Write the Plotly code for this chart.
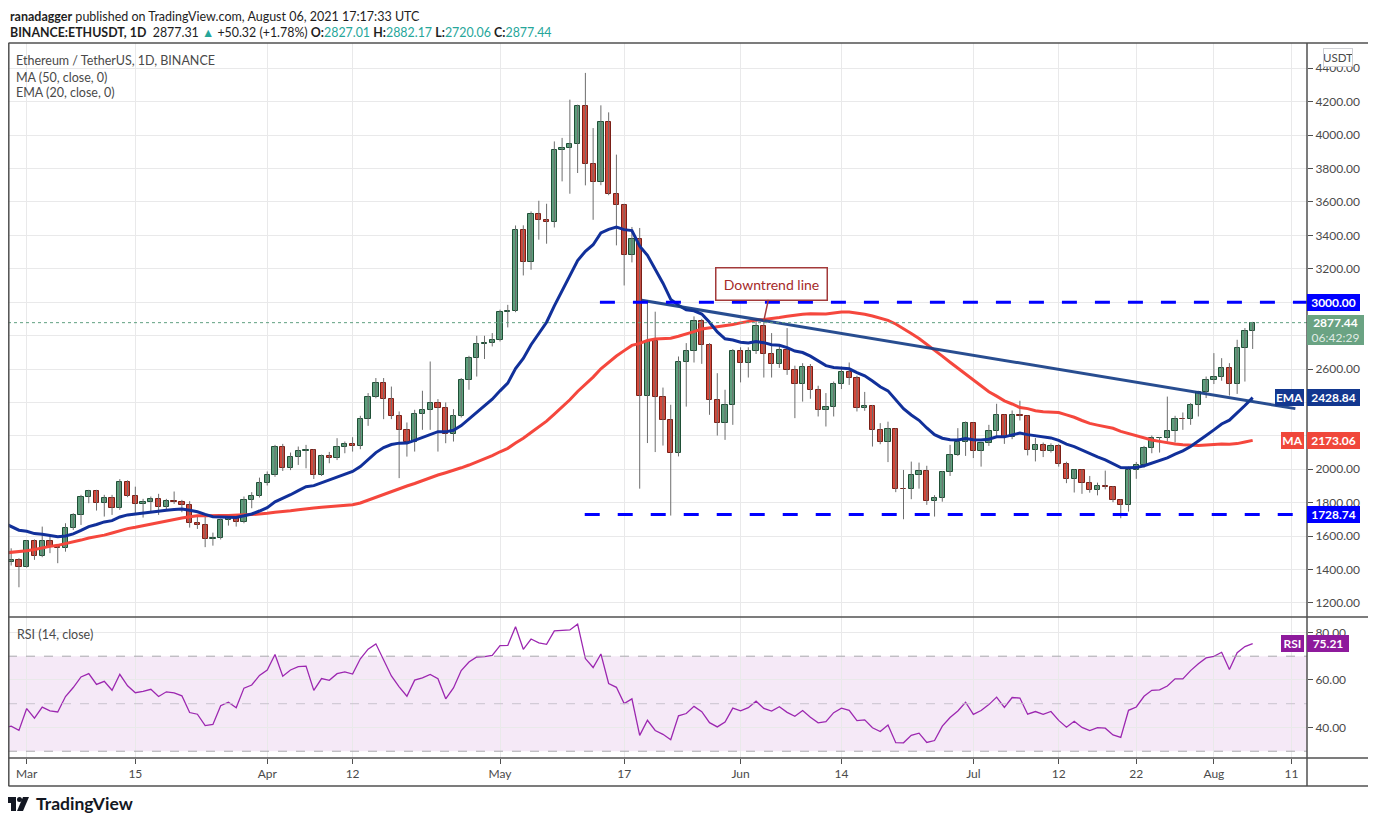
import pandas as pd
import plotly.graph_objects as go

# BINANCE:ETHUSDT daily candles, Feb 27 - Aug 6 2021
dates = pd.date_range("2021-02-27", "2021-08-06", freq="D")

opens = [
    1446, 1459,
    # Mar
    1418, 1569, 1483, 1569, 1537, 1527, 1647, 1727, 1833, 1869, 1797, 1827, 1767, 1923, 1843, 1791,
    1803, 1821, 1773, 1809, 1803, 1785, 1677, 1665, 1581, 1587, 1695, 1717, 1683, 1815, 1839,
    # Apr
    1917, 1965, 2132, 2006, 2072, 2108, 2114, 1965, 2078, 2066, 2132, 2150, 2138, 2300, 2432,
    2516, 2420, 2316, 2236, 2162, 2330, 2356, 2396, 2366, 2212, 2320, 2535, 2665, 2749, 2755,
    # May
    2775, 2944, 2950, 3429, 3241, 3528, 3492, 3480, 3913, 3923, 3947, 4176, 3827, 3719, 4080, 3647,
    3582, 3282, 3378, 2440, 2769, 2432, 2294, 2096, 2645, 2705, 2889, 2742, 2412, 2276, 2384,
    # Jun
    2707, 2635, 2707, 2857, 2689, 2629, 2715, 2595, 2510, 2611, 2474, 2354, 2372, 2510, 2582,
    2546, 2366, 2376, 2234, 2162, 2240, 1884, 1881, 1965, 1989, 1809, 1829, 1983, 2085, 2164,
    # Jul
    2276, 2108, 2155, 2228, 2324, 2196, 2324, 2318, 2115, 2145, 2110, 2139, 2031, 1941, 1995, 1917,
    1875, 1899, 1893, 1815, 1785, 1995, 2025, 2126, 2186, 2190, 2228, 2300, 2299, 2384, 2462,
    # Aug
    2534, 2554, 2605, 2510, 2725, 2827.01,
]
highs = [
    1527, 1468,
    1577, 1580, 1657, 1600, 1547, 1677, 1737, 1847, 1877, 1877, 1847, 1847, 1941, 1934, 1896,
    1823, 1837, 1853, 1823, 1867, 1817, 1809, 1721, 1727, 1621, 1705, 1727, 1727, 1837, 1863, 1950,
    1987, 2146, 2152, 2100, 2136, 2146, 2120, 2088, 2104, 2186, 2166, 2192, 2320, 2456, 2546,
    2546, 2495, 2346, 2280, 2356, 2470, 2645, 2420, 2400, 2360, 2546, 2679, 2799, 2799, 2815,
    2955, 2984, 3459, 3460, 3543, 3607, 3589, 3962, 3983, 4212, 4182, 4372, 4042, 4178, 4136, 3883,
    3589, 3450, 3444, 3011, 2943, 2489, 2386, 2675, 2755, 2915, 2900, 2755, 2575, 2476, 2719,
    2730, 2730, 2895, 2883, 2815, 2745, 2845, 2620, 2635, 2630, 2500, 2456, 2525, 2615, 2639,
    2560, 2463, 2385, 2276, 2285, 2245, 1996, 2046, 2040, 2021, 1845, 1990, 2146, 2246, 2286,
    2280, 2160, 2266, 2392, 2328, 2352, 2410, 2322, 2187, 2160, 2155, 2150, 2045, 2000, 2000, 1960,
    1920, 1992, 1900, 1820, 2016, 2044, 2140, 2202, 2192, 2435, 2320, 2340, 2396, 2470, 2555,
    2695, 2665, 2635, 2775, 2845, 2882.17,
]
lows = [
    1424, 1294,
    1412, 1458, 1474, 1498, 1438, 1507, 1637, 1667, 1797, 1753, 1717, 1727, 1757, 1833, 1727,
    1711, 1741, 1727, 1753, 1793, 1743, 1651, 1643, 1534, 1543, 1580, 1663, 1657, 1677, 1767, 1831,
    1903, 1955, 1990, 1995, 2026, 2006, 1942, 1960, 2036, 2055, 2096, 2106, 2120, 2260, 2425,
    2300, 2300, 1947, 2076, 2106, 2236, 2236, 2106, 2156, 2166, 2310, 2476, 2555, 2660, 2735,
    2765, 2849, 2940, 3160, 3194, 3374, 3350, 3447, 3723, 3649, 3773, 3699, 3493, 3700, 3640, 3340,
    3100, 3238, 1884, 2157, 2103, 2142, 1723, 2077, 2375, 2639, 2631, 2326, 2202, 2176, 2266,
    2520, 2549, 2690, 2549, 2549, 2607, 2565, 2306, 2405, 2422, 2316, 2256, 2316, 2480, 2505,
    2346, 2350, 2136, 2150, 2043, 1863, 1701, 1821, 1884, 1787, 1717, 1806, 1960, 2080, 2080,
    2067, 2016, 2140, 2200, 2152, 2180, 2292, 2083, 2047, 2073, 2100, 2016, 1917, 1861, 1853, 1860,
    1844, 1880, 1803, 1707, 1747, 1943, 2010, 2096, 2100, 2166, 2160, 2236, 2266, 2316, 2426,
    2510, 2530, 2441, 2451, 2525, 2720.06,
]
closes = [
    1459, 1418,
    1569, 1483, 1569, 1537, 1527, 1647, 1727, 1833, 1869, 1797, 1827, 1767, 1923, 1843, 1791, 1803,
    1821, 1773, 1809, 1803, 1785, 1677, 1665, 1581, 1587, 1695, 1717, 1683, 1815, 1839, 1917,
    1965, 2132, 2006, 2072, 2108, 2114, 1965, 2078, 2066, 2132, 2150, 2138, 2300, 2432, 2516,
    2420, 2316, 2236, 2162, 2330, 2356, 2396, 2366, 2212, 2320, 2535, 2665, 2749, 2755, 2775,
    2944, 2950, 3429, 3241, 3528, 3492, 3480, 3913, 3923, 3947, 4176, 3827, 3719, 4080, 3647, 3582,
    3282, 3378, 2440, 2769, 2432, 2294, 2096, 2645, 2705, 2889, 2742, 2412, 2276, 2384, 2707,
    2635, 2707, 2857, 2689, 2629, 2715, 2595, 2510, 2611, 2474, 2354, 2372, 2510, 2582, 2546,
    2366, 2376, 2234, 2162, 2240, 1884, 1881, 1965, 1989, 1809, 1829, 1983, 2085, 2164, 2276,
    2108, 2155, 2228, 2324, 2196, 2324, 2318, 2115, 2145, 2110, 2139, 2031, 1941, 1995, 1917, 1875,
    1899, 1893, 1815, 1785, 1995, 2025, 2126, 2186, 2190, 2228, 2300, 2299, 2384, 2462, 2534,
    2554, 2605, 2510, 2725, 2827, 2877.44,
]

# closes before the visible window (Jan 1 - Feb 26), only to warm up MA / EMA / RSI
warmup_closes = [
    729, 774, 978, 1041, 1099, 1208, 1225, 1224, 1281, 1262, 1090, 1044, 1130, 1218, 1171, 1233,
    1230, 1257, 1377, 1382, 1121, 1236, 1231, 1392, 1324, 1357, 1253, 1332, 1382, 1377, 1314,
    1369, 1515, 1660, 1593, 1724, 1678, 1614, 1751, 1769, 1743, 1784, 1843, 1812, 1800, 1779, 1781,
    1848, 1938, 1960, 1919, 1935, 1777, 1572, 1626, 1476, 1446,
]

# drawings on the chart
level_prices = [3000.00, 1728.74]
level_starts = ["2021-05-13 21:00", "2021-05-11 22:00"]
trend_dates = ["2021-05-19 06:00", "2021-08-11 12:00"]
trend_prices = [3011, 2363]
callout_date, callout_price = "2021-06-04", 2890

# values printed in the axis badges
last_price = 2877.44
ema_label, ma_label, rsi_label = 2428.84, 2173.06, 75.21

price_ticks = list(range(1200, 4401, 200))
hidden_price_ticks = [2200, 2400, 2800, 3000]   # sit under the badges
x_ticks = ["2021-03-01", "2021-03-15", "2021-04-01", "2021-04-12", "2021-05-01", "2021-05-17",
           "2021-06-01", "2021-06-14", "2021-07-01", "2021-07-12", "2021-07-22", "2021-08-01",
           "2021-08-11"]
x_tick_text = ["Mar", "15", "Apr", "12", "May", "17", "Jun", "14", "Jul", "12", "22", "Aug", "11"]

# ---- indicators
all_close = pd.Series(warmup_closes + closes, index=pd.date_range("2021-01-01", "2021-08-06"))
ma50 = all_close.rolling(50).mean()
ema20 = all_close.ewm(span=20, adjust=False).mean()
chg = all_close.diff()
up = chg.clip(lower=0).ewm(alpha=1 / 14, adjust=False).mean()
dn = (-chg.clip(upper=0)).ewm(alpha=1 / 14, adjust=False).mean()
rsi = 100 - 100 / (1 + up / dn)
show = all_close.index >= "2021-02-26"

# ---- geometry (page pixels; the page body adds an 8px offset)
OFF = 8
FW, FH = 1368, 815
PL, PR, PT, PB = 8, 1307, 43, 758


def px(x):
    return (x - PL) / (PR - PL)


def py(y):
    return (PB - y) / (PB - PT)


FONT = "Lato, Noto Sans, sans-serif"
GRID = "#e9e9ea"
TXT = "#4a4a4a"
UP_FILL, UP_LINE = "#5d9e7c", "#1f4f36"
DN_FILL, DN_LINE = "#d4483a", "#7a1f17"

fig = go.Figure()

# wicks
wx, wy = [], []
for d, h, l in zip(dates, highs, lows):
    wx += [d, d, None]
    wy += [l, h, None]
fig.add_trace(go.Scatter(x=wx, y=wy, mode="lines", line=dict(color="#6d6d6d", width=1),
                         hoverinfo="skip", xaxis="x", yaxis="y"))

# bodies
is_up = [c >= o for o, c in zip(opens, closes)]
fig.add_trace(go.Bar(
    x=dates, y=[abs(c - o) for o, c in zip(opens, closes)],
    base=[min(o, c) for o, c in zip(opens, closes)],
    width=0.68 * 86400000,
    marker=dict(color=[UP_FILL if u else DN_FILL for u in is_up],
                line=dict(color=[UP_LINE if u else DN_LINE for u in is_up], width=1)),
    hoverinfo="skip", xaxis="x", yaxis="y"))

# moving averages
fig.add_trace(go.Scatter(x=all_close.index[show], y=ma50[show], mode="lines",
                         line=dict(color="#f5473d", width=3), hoverinfo="skip", xaxis="x", yaxis="y"))
fig.add_trace(go.Scatter(x=all_close.index[show], y=ema20[show], mode="lines",
                         line=dict(color="#11309a", width=3), hoverinfo="skip", xaxis="x", yaxis="y"))

# downtrend line
fig.add_trace(go.Scatter(x=trend_dates, y=trend_prices, mode="lines",
                         line=dict(color="rgba(22,62,135,0.92)", width=3), hoverinfo="skip",
                         xaxis="x", yaxis="y"))

# horizontal levels
for p, s in zip(level_prices, level_starts):
    fig.add_trace(go.Scatter(x=[s, "2021-08-13"], y=[p, p], mode="lines",
                             line=dict(color="#0000ff", width=3, dash="15px,18px"),
                             hoverinfo="skip", xaxis="x", yaxis="y"))

# rsi
fig.add_trace(go.Scatter(x=all_close.index[show], y=rsi[show], mode="lines",
                         line=dict(color="#9c27b0", width=1.3), hoverinfo="skip",
                         xaxis="x2", yaxis="y2"))

x_range = ["2021-02-26 14:10", "2021-08-13 00:00"]

shapes = [
    # current price dotted line
    dict(type="line", xref="paper", yref="y", x0=0, x1=1, y0=last_price, y1=last_price,
         line=dict(color="#5f9f80", width=1, dash="dot")),
    # rsi band and levels
    dict(type="rect", xref="paper", yref="y2", x0=0, x1=1, y0=30, y1=70,
         fillcolor="rgba(156,39,176,0.1)", line=dict(width=0), layer="below"),
    dict(type="line", xref="paper", yref="y2", x0=0, x1=1, y0=70, y1=70,
         line=dict(color="#a9a9ad", width=1, dash="dash")),
    dict(type="line", xref="paper", yref="y2", x0=0, x1=1, y0=50, y1=50,
         line=dict(color="#c9c3cf", width=1, dash="dash")),
    dict(type="line", xref="paper", yref="y2", x0=0, x1=1, y0=30, y1=30,
         line=dict(color="#a9a9ad", width=1, dash="dash")),
]
frame = dict(color="#505050", width=1.5)
for y in [43, 617, 758, 786]:
    shapes.append(dict(type="line", xref="paper", yref="paper", x0=px(8.5), x1=px(1369),
                       y0=py(y), y1=py(y), line=frame))
for x in [8.8, 1307, 1369]:
    shapes.append(dict(type="line", xref="paper", yref="paper", x0=px(x), x1=px(x),
                       y0=py(43), y1=py(786), line=frame))

# TradingView logo glyph
logo = "#131722"
shapes += [
    dict(type="rect", xref="paper", yref="paper", x0=px(8), x1=px(16), y0=py(803), y1=py(797),
         fillcolor=logo, line=dict(width=0)),
    dict(type="rect", xref="paper", yref="paper", x0=px(11), x1=px(16), y0=py(811), y1=py(797),
         fillcolor=logo, line=dict(width=0)),
    dict(type="circle", xref="paper", yref="paper", x0=px(17), x1=px(22), y0=py(802), y1=py(797),
         fillcolor=logo, line=dict(width=0)),
    dict(type="path", xref="paper", yref="paper",
         path=f"M {px(23)} {py(797)} L {px(29)} {py(797)} L {px(23)} {py(811)} L {px(17)} {py(811)} Z",
         fillcolor=logo, line=dict(width=0)),
]

ann = []


def text(t, x, y, size=12.5, color=TXT, anchor="left"):
    ann.append(dict(text=t, xref="paper", yref="paper", x=px(x), y=py(y), xanchor=anchor,
                    yanchor="middle", showarrow=False, font=dict(family=FONT, size=size, color=color)))


teal = "#26a69a"
text("<b>ranadagger</b> published on TradingView.com, August 06, 2021 17:17:33 UTC", 8, 17, 12.5, "#1e1e1e")
text(f"<b>BINANCE:ETHUSDT, 1D</b>  2877.31 <span style='color:{teal}'>▲</span> +50.32 (+1.78%) "
     f"<b>O:</b><span style='color:{teal}'>2827.01</span> <b>H:</b><span style='color:{teal}'>2882.17</span> "
     f"<b>L:</b><span style='color:{teal}'>2720.06</span> <b>C:</b><span style='color:{teal}'>2877.44</span>",
     8, 32, 12.4, "#1e1e1e")
text("Ethereum / TetherUS, 1D, BINANCE", 14, 60, 12.5)
text("MA (50, close, 0)", 14, 77, 12.5)
text("EMA (20, close, 0)", 14, 93, 12.5)
text("RSI (14, close)", 15, 634, 12.5)
text("<b>TradingView</b>", 34, 803, 17.5, "#131722")


def badge(t, x0, x1, y, yref, bg, fg="white", h=17, size=12, yshift=0, border=None):
    ann.append(dict(text=t, xref="paper", yref=yref, x=px(x0), y=y, xanchor="left", yanchor="middle",
                    width=x1 - x0, height=h, bgcolor=bg, borderpad=0, showarrow=False, yshift=yshift,
                    bordercolor=border or bg, borderwidth=1 if border else 0,
                    font=dict(family=FONT, size=size, color=fg)))


badge("USDT", 1323, 1351, py(58), "paper", "white", TXT, h=17, size=11.5, border="#cfd1d6")
badge("<b>3000.00</b>", 1307, 1360, level_prices[0], "y", "#0000ff")
badge("<b>1728.74</b>", 1307, 1360, level_prices[1], "y", "#0000ff")
badge(f"<b>{last_price:.2f}</b><br><span style='color:rgba(255,255,255,0.8)'>06:42:29</span>",
      1307, 1364, last_price, "y", "#6aa383", h=30, yshift=-7)
badge("<b>EMA</b>", 1275, 1304, ema_label, "y", "#12378f")
badge(f"<b>{ema_label:.2f}</b>", 1307, 1360, ema_label, "y", "#12378f")
badge("<b>MA</b>", 1281, 1304, ma_label, "y", "#f0473a")
badge(f"<b>{ma_label:.2f}</b>", 1307, 1360, ma_label, "y", "#f0473a")
badge("<b>RSI</b>", 1281, 1304, rsi_label, "y2", "#8e1a9c")
badge(f"<b>{rsi_label:.2f}</b>", 1307, 1349, rsi_label, "y2", "#8e1a9c")

# callout
ann.append(dict(text="Downtrend line", x=callout_date, y=callout_price, xref="x", yref="y",
                showarrow=True, arrowhead=0, arrowwidth=1.5, arrowcolor="#a33a3a", ax=8, ay=-37,
                bgcolor="white", bordercolor="#a33a3a", borderwidth=1.5, borderpad=0,
                width=110, height=31, font=dict(family=FONT, size=14, color="#a52a2a")))

fig.update_layout(
    width=FW, height=FH,
    margin=dict(l=PL - OFF, r=FW - (PR - OFF), t=PT - OFF, b=FH - (PB - OFF)),
    paper_bgcolor="white", plot_bgcolor="white", showlegend=False,
    xaxis=dict(domain=[0, 1], anchor="y", type="date", range=x_range, tickvals=x_ticks,
               showticklabels=False, showgrid=True, gridcolor=GRID, zeroline=False, showline=False),
    xaxis2=dict(domain=[0, 1], anchor="y2", type="date", range=x_range, tickvals=x_ticks,
                ticktext=x_tick_text, ticks="outside", ticklen=5, tickcolor="#505050",
                tickfont=dict(family=FONT, size=12, color=TXT), showgrid=True, gridcolor=GRID,
                zeroline=False, showline=False),
    yaxis=dict(domain=[py(617), 1], anchor="x", side="right", range=[1116, 4551],
               tickvals=price_ticks,
               ticktext=["" if v in hidden_price_ticks else f"{v:.2f}" for v in price_ticks],
               ticks="outside", ticklen=5,
               tickcolor="#505050", tickfont=dict(family=FONT, size=12, color=TXT),
               showgrid=True, gridcolor=GRID, zeroline=False, showline=False),
    yaxis2=dict(domain=[0, py(617)], anchor="x2", side="right", range=[27.15, 86.5],
                tickvals=[40, 60, 80], tickformat=".2f", ticks="outside", ticklen=5,
                tickcolor="#505050", tickfont=dict(family=FONT, size=12, color=TXT),
                showgrid=True, gridcolor=GRID, zeroline=False, showline=False),
    shapes=shapes, annotations=ann, bargap=0,
)

fig.write_html("out.html")
